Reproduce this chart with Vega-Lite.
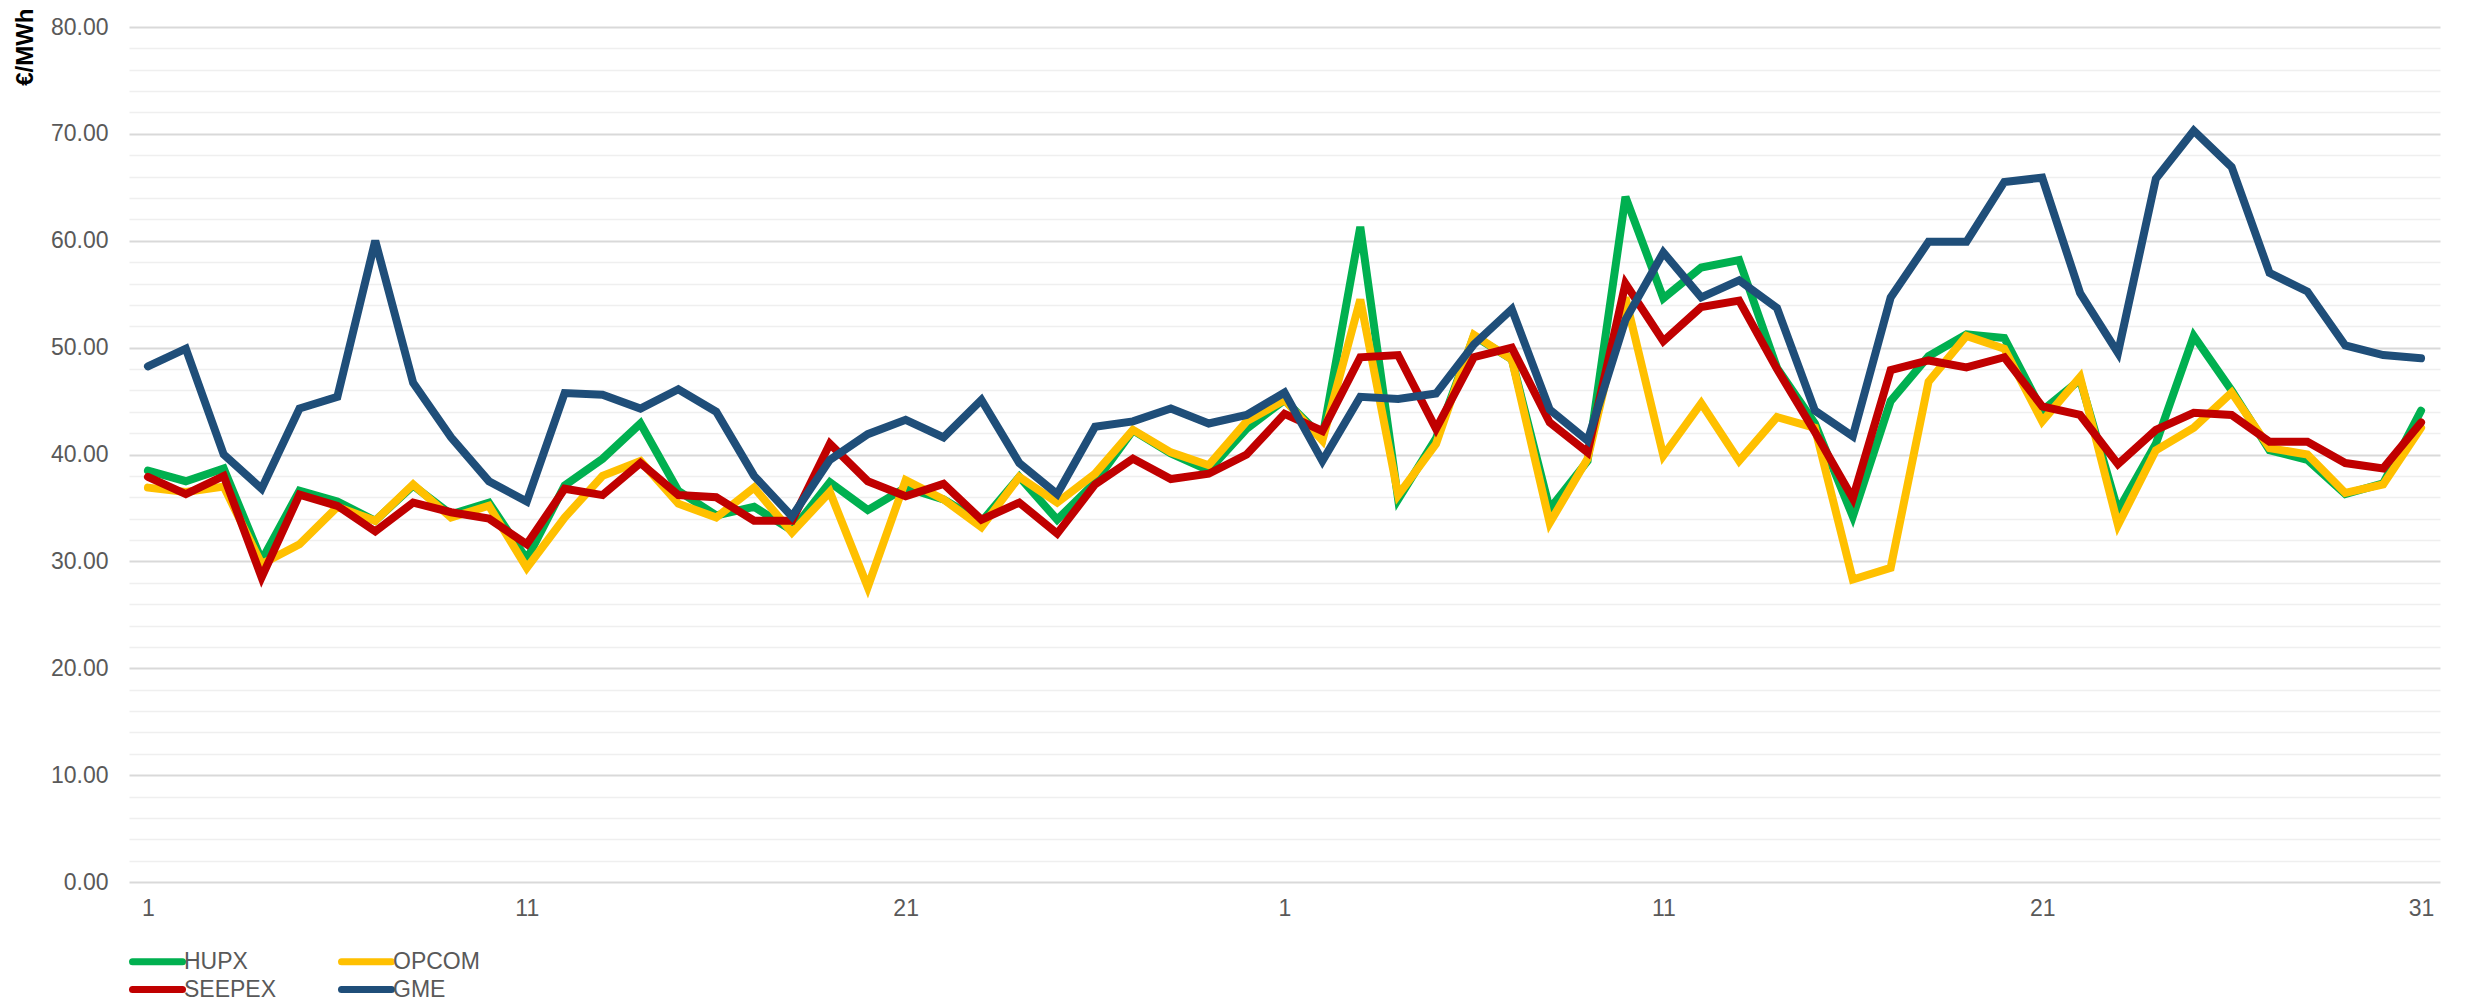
{
  "$schema": "https://vega.github.io/schema/vega-lite/v6.json",
  "width": 2311,
  "height": 855,
  "autosize": {"type": "none"},
  "padding": {"left": 129, "top": 27, "right": 25, "bottom": 118},
  "background": "white",
  "config": {
    "view": {"stroke": null},
    "font": "Liberation Sans",
    "axis": {"labelFont": "Liberation Sans", "labelFontSize": 23, "labelColor": "#595959", "domain": false, "ticks": false}
  },
  "data": {"values": [
    {"t":0,"HUPX":38.5,"OPCOM":36.9,"SEEPEX":37.9,"GME":48.25},
    {"t":1,"HUPX":37.5,"OPCOM":36.5,"SEEPEX":36.3,"GME":49.9},
    {"t":2,"HUPX":38.7,"OPCOM":37.0,"SEEPEX":38.0,"GME":40.0},
    {"t":3,"HUPX":30.1,"OPCOM":29.75,"SEEPEX":28.5,"GME":36.8},
    {"t":4,"HUPX":36.6,"OPCOM":31.6,"SEEPEX":36.25,"GME":44.3},
    {"t":5,"HUPX":35.6,"OPCOM":35.1,"SEEPEX":35.2,"GME":45.4},
    {"t":6,"HUPX":33.8,"OPCOM":33.8,"SEEPEX":32.8,"GME":60.0},
    {"t":7,"HUPX":37.1,"OPCOM":37.2,"SEEPEX":35.5,"GME":46.7},
    {"t":8,"HUPX":34.4,"OPCOM":34.1,"SEEPEX":34.6,"GME":41.6},
    {"t":9,"HUPX":35.5,"OPCOM":35.2,"SEEPEX":34.0,"GME":37.5},
    {"t":10,"HUPX":30.2,"OPCOM":29.4,"SEEPEX":31.6,"GME":35.6},
    {"t":11,"HUPX":37.1,"OPCOM":34.1,"SEEPEX":36.8,"GME":45.75},
    {"t":12,"HUPX":39.6,"OPCOM":38.0,"SEEPEX":36.2,"GME":45.6},
    {"t":13,"HUPX":42.9,"OPCOM":39.4,"SEEPEX":39.2,"GME":44.3},
    {"t":14,"HUPX":36.6,"OPCOM":35.4,"SEEPEX":36.2,"GME":46.1},
    {"t":15,"HUPX":34.3,"OPCOM":34.1,"SEEPEX":36.0,"GME":44.0},
    {"t":16,"HUPX":35.1,"OPCOM":36.9,"SEEPEX":33.8,"GME":38.0},
    {"t":17,"HUPX":32.9,"OPCOM":32.7,"SEEPEX":33.8,"GME":34.2},
    {"t":18,"HUPX":37.4,"OPCOM":36.5,"SEEPEX":41.0,"GME":39.5},
    {"t":19,"HUPX":34.8,"OPCOM":27.6,"SEEPEX":37.5,"GME":41.9},
    {"t":20,"HUPX":36.9,"OPCOM":37.6,"SEEPEX":36.1,"GME":43.25},
    {"t":21,"HUPX":35.8,"OPCOM":35.8,"SEEPEX":37.25,"GME":41.6},
    {"t":22,"HUPX":33.7,"OPCOM":33.2,"SEEPEX":33.9,"GME":45.1},
    {"t":23,"HUPX":37.9,"OPCOM":37.9,"SEEPEX":35.5,"GME":39.2},
    {"t":24,"HUPX":33.9,"OPCOM":35.5,"SEEPEX":32.6,"GME":36.3},
    {"t":25,"HUPX":37.4,"OPCOM":38.2,"SEEPEX":37.2,"GME":42.6},
    {"t":26,"HUPX":42.25,"OPCOM":42.3,"SEEPEX":39.6,"GME":43.1},
    {"t":27,"HUPX":40.1,"OPCOM":40.2,"SEEPEX":37.7,"GME":44.3},
    {"t":28,"HUPX":38.5,"OPCOM":39.0,"SEEPEX":38.2,"GME":42.9},
    {"t":29,"HUPX":42.4,"OPCOM":43.1,"SEEPEX":40.0,"GME":43.7},
    {"t":30,"HUPX":45.1,"OPCOM":45.1,"SEEPEX":43.8,"GME":45.8},
    {"t":31,"HUPX":41.6,"OPCOM":41.3,"SEEPEX":42.2,"GME":39.4},
    {"t":32,"HUPX":61.3,"OPCOM":54.5,"SEEPEX":49.1,"GME":45.4},
    {"t":33,"HUPX":35.8,"OPCOM":36.2,"SEEPEX":49.3,"GME":45.2},
    {"t":34,"HUPX":41.5,"OPCOM":41.0,"SEEPEX":42.4,"GME":45.7},
    {"t":35,"HUPX":51.1,"OPCOM":51.2,"SEEPEX":49.1,"GME":50.3},
    {"t":36,"HUPX":48.9,"OPCOM":48.9,"SEEPEX":50.0,"GME":53.6},
    {"t":37,"HUPX":34.9,"OPCOM":33.6,"SEEPEX":43.0,"GME":44.2},
    {"t":38,"HUPX":39.4,"OPCOM":39.6,"SEEPEX":40.2,"GME":41.3},
    {"t":39,"HUPX":64.1,"OPCOM":54.7,"SEEPEX":56.0,"GME":52.6},
    {"t":40,"HUPX":54.6,"OPCOM":39.9,"SEEPEX":50.6,"GME":58.9},
    {"t":41,"HUPX":57.5,"OPCOM":44.8,"SEEPEX":53.8,"GME":54.7},
    {"t":42,"HUPX":58.2,"OPCOM":39.4,"SEEPEX":54.4,"GME":56.3},
    {"t":43,"HUPX":48.1,"OPCOM":43.5,"SEEPEX":48.0,"GME":53.7},
    {"t":44,"HUPX":42.9,"OPCOM":42.5,"SEEPEX":42.1,"GME":44.1},
    {"t":45,"HUPX":34.2,"OPCOM":28.3,"SEEPEX":35.9,"GME":41.7},
    {"t":46,"HUPX":45.0,"OPCOM":29.4,"SEEPEX":47.9,"GME":54.7},
    {"t":47,"HUPX":49.2,"OPCOM":46.8,"SEEPEX":48.8,"GME":59.9},
    {"t":48,"HUPX":51.25,"OPCOM":51.1,"SEEPEX":48.15,"GME":59.9},
    {"t":49,"HUPX":50.9,"OPCOM":49.9,"SEEPEX":49.1,"GME":65.5},
    {"t":50,"HUPX":44.1,"OPCOM":43.1,"SEEPEX":44.5,"GME":65.9},
    {"t":51,"HUPX":47.0,"OPCOM":47.25,"SEEPEX":43.7,"GME":55.1},
    {"t":52,"HUPX":34.75,"OPCOM":33.4,"SEEPEX":39.1,"GME":49.5},
    {"t":53,"HUPX":41.0,"OPCOM":40.4,"SEEPEX":42.3,"GME":65.8},
    {"t":54,"HUPX":51.1,"OPCOM":42.5,"SEEPEX":43.9,"GME":70.3},
    {"t":55,"HUPX":46.0,"OPCOM":45.8,"SEEPEX":43.7,"GME":66.9},
    {"t":56,"HUPX":40.4,"OPCOM":40.6,"SEEPEX":41.2,"GME":57.0},
    {"t":57,"HUPX":39.5,"OPCOM":40.0,"SEEPEX":41.2,"GME":55.25},
    {"t":58,"HUPX":36.3,"OPCOM":36.4,"SEEPEX":39.2,"GME":50.2},
    {"t":59,"HUPX":37.3,"OPCOM":37.2,"SEEPEX":38.7,"GME":49.3},
    {"t":60,"HUPX":44.1,"OPCOM":42.5,"SEEPEX":43.0,"GME":49.0}
  ]},
  "encoding": {
    "x": {
      "field": "t", "type": "quantitative",
      "scale": {"domain": [-0.5, 60.5], "nice": false, "zero": false},
      "axis": {"values": [0,10,20,30,40,50,60], "labelExpr": "datum.value < 30 ? '' + (datum.value + 1) : '' + (datum.value - 29)", "grid": false, "title": null, "labelPadding": 15, "labelFlush": false}
    }
  },
  "layer": [
    {
      "mark": {"type": "line", "strokeWidth": 8, "strokeCap": "round"},
      "encoding": {
        "y": {"field": "HUPX", "type": "quantitative", "scale": {"domain": [0, 80], "nice": false},
          "axis": {"orient": "left", "values": [2,4,6,8,12,14,16,18,22,24,26,28,32,34,36,38,42,44,46,48,52,54,56,58,62,64,66,68,72,74,76,78], "labels": false, "grid": true, "gridColor": "#efefef", "gridWidth": 1.5, "title": null}},
        "color": {"datum": "HUPX", "type": "nominal",
          "scale": {"domain": ["HUPX","OPCOM","SEEPEX","GME"], "range": ["#00B050","#FFC000","#C00000","#1F4E79"]},
          "legend": {"orient": "none", "legendX": 0, "legendY": 921, "direction": "horizontal", "columns": 2, "title": null, "symbolType": "M -1 0 H 4", "symbolSize": 400, "symbolStrokeWidth": 7, "labelFontSize": 23, "labelColor": "#595959", "labelFont": "Liberation Sans", "labelOffset": 28, "columnPadding": 50, "rowPadding": -3, "padding": 0,
            "encode": {"symbols": {"update": {"strokeCap": {"value": "round"}}}}}}
      }
    },
    {
      "mark": {"type": "line", "strokeWidth": 8, "strokeCap": "round"},
      "encoding": {
        "y": {"field": "OPCOM", "type": "quantitative", "scale": {"domain": [0, 80], "nice": false}, "axis": null},
        "color": {"datum": "OPCOM", "type": "nominal"}
      }
    },
    {
      "mark": {"type": "line", "strokeWidth": 8, "strokeCap": "round"},
      "encoding": {
        "y": {"field": "SEEPEX", "type": "quantitative", "scale": {"domain": [0, 80], "nice": false}, "axis": null},
        "color": {"datum": "SEEPEX", "type": "nominal"}
      }
    },
    {
      "mark": {"type": "line", "strokeWidth": 8, "strokeCap": "round"},
      "encoding": {
        "y": {"field": "GME", "type": "quantitative", "scale": {"domain": [0, 80], "nice": false},
          "axis": {"orient": "left", "values": [0,10,20,30,40,50,60,70,80], "format": ".2f", "grid": true, "gridColor": "#d9d9d9", "gridWidth": 2, "labelPadding": 21,
            "title": "€/MWh", "titleFont": "Liberation Sans", "titleFontWeight": "bold", "titleFontSize": 24, "titleColor": "#000000", "titleAngle": 270, "titleX": -104, "titleY": -19, "titleAlign": "right", "titleBaseline": "middle"}},
        "color": {"datum": "GME", "type": "nominal"}
      }
    }
  ],
  "resolve": {"axis": {"y": "independent"}}
}
